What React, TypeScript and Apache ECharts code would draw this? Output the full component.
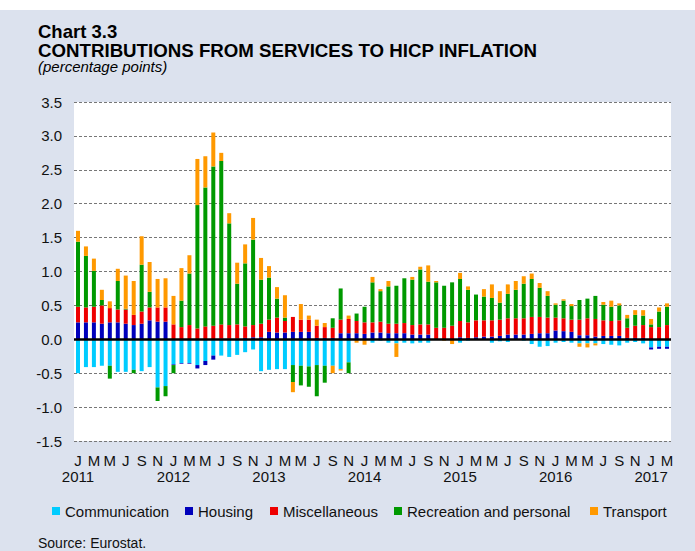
import React, { useEffect, useRef } from "react";
import * as echarts from "echarts";

const years = [2011, 2012, 2013, 2014, 2015, 2016, 2017];
const monthLetters = ["J", "F", "M", "A", "M", "J", "J", "A", "S", "O", "N", "D"];
const monthCount = 75; // Jan 2011 .. Mar 2017

const categories: string[] = [];
for (const y of years) {
  for (let m = 1; m <= 12; m++) {
    if (categories.length < monthCount) categories.push(`${y}-${String(m).padStart(2, "0")}`);
  }
}

const communication = [
  -0.50, -0.41, -0.41, -0.39, -0.39, -0.48, -0.48, -0.45, -0.47, -0.41, -0.71, -0.69,
  -0.37, -0.35, -0.35, -0.38, -0.32, -0.24, -0.24, -0.26, -0.23, -0.19, -0.15, -0.47,
  -0.45, -0.44, -0.44, -0.38, -0.39, -0.40, -0.38, -0.39, -0.39, -0.44, -0.34, 0.00,
  0.00, -0.05, -0.02, -0.05, -0.06, -0.05, -0.06, -0.05, -0.05, 0.00, 0.00, 0.00,
  -0.05, -0.02, 0.00, 0.00, -0.05, -0.03, -0.04, 0.00, -0.02, -0.07, -0.11, -0.10,
  -0.05, -0.04, -0.05, -0.06, -0.06, -0.06, -0.07, -0.08, -0.09, -0.05, -0.04, -0.06,
  -0.12, -0.11, -0.11,
];

const housing = [
  0.25, 0.25, 0.25, 0.23, 0.25, 0.25, 0.23, 0.21, 0.23, 0.28, 0.26, 0.26,
  -0.01, -0.01, -0.01, -0.05, -0.06, -0.06, 0.01, 0.01, 0.01, 0.02, 0.03, 0.03,
  0.11, 0.10, 0.10, 0.11, 0.11, 0.11, 0.02, 0.02, 0.02, 0.09, 0.09, 0.09,
  0.08, 0.10, 0.10, 0.09, 0.09, 0.09, 0.07, 0.07, 0.07, 0.00, 0.00, 0.00,
  0.03, 0.02, 0.03, 0.04, 0.04, 0.05, 0.07, 0.07, 0.07, 0.08, 0.09, 0.09,
  0.13, 0.12, 0.11, 0.06, 0.06, 0.04, 0.05, 0.05, 0.05, 0.02, 0.02, 0.02,
  -0.03, -0.03, -0.03,
];

const miscellaneous = [
  0.23, 0.22, 0.23, 0.27, 0.21, 0.19, 0.21, 0.15, 0.18, 0.19, 0.21, 0.21,
  0.22, 0.18, 0.21, 0.16, 0.19, 0.20, 0.21, 0.20, 0.21, 0.17, 0.18, 0.20,
  0.18, 0.22, 0.17, 0.22, 0.18, 0.18, 0.18, 0.16, 0.15, 0.20, 0.21, 0.18,
  0.17, 0.15, 0.16, 0.14, 0.14, 0.15, 0.14, 0.15, 0.15, 0.17, 0.17, 0.20,
  0.24, 0.23, 0.25, 0.24, 0.24, 0.24, 0.24, 0.24, 0.24, 0.25, 0.24, 0.23,
  0.19, 0.19, 0.18, 0.23, 0.25, 0.26, 0.23, 0.22, 0.23, 0.15, 0.18, 0.19,
  0.18, 0.18, 0.21,
];

const recreation = [
  0.96, 0.76, 0.53, 0.08, -0.19, 0.42, 0.01, -0.05, 0.69, 0.23, -0.20, -0.15,
  -0.12, 0.39, 0.76, 1.82, 2.05, 2.35, 2.41, 1.50, 0.60, 0.93, 1.26, 0.65,
  0.62, 0.28, 0.05, -0.25, -0.29, -0.30, -0.46, -0.25, 0.14, 0.46, -0.16, 0.11,
  0.23, 0.59, 0.45, 0.55, 0.56, 0.66, 0.67, 0.81, 0.63, 0.67, 0.62, 0.64,
  0.62, 0.48, 0.38, 0.35, 0.33, 0.25, 0.36, 0.42, 0.51, 0.56, 0.43, 0.32,
  0.19, 0.26, 0.20, 0.29, 0.29, 0.34, 0.23, 0.21, 0.22, 0.14, 0.16, 0.14,
  0.04, 0.23, 0.27,
];

const transport = [
  0.16, 0.14, 0.18, 0.15, 0.10, 0.18, 0.49, 0.50, 0.42, 0.44, 0.42, 0.43,
  0.42, 0.48, 0.27, 0.68, 0.46, 0.50, 0.12, 0.15, 0.31, 0.28, 0.32, 0.32,
  0.17, 0.17, 0.33, -0.15, 0.23, 0.06, 0.09, 0.06, -0.11, -0.02, 0.05, -0.05,
  -0.08, 0.08, 0.03, 0.08, -0.20, 0.00, 0.04, 0.04, 0.24, 0.02, -0.02, -0.07,
  0.09, 0.05, 0.00, 0.11, 0.20, 0.17, 0.14, 0.13, 0.11, 0.08, 0.07, 0.07,
  0.02, 0.02, 0.03, -0.05, -0.06, -0.03, 0.04, 0.09, 0.03, 0.05, 0.07, 0.08,
  0.08, 0.06, 0.05,
];

const seriesNames = ["Communication", "Housing", "Miscellaneous", "Recreation and personal", "Transport"];
const seriesColors = ["#00CCFF", "#0000BB", "#EE0000", "#009900", "#FF9900"];
const seriesValues = [communication, housing, miscellaneous, recreation, transport];
const legendLefts = [52, 185, 270, 394, 590];

const FONT = "'Liberation Sans', Arial, Helvetica, sans-serif";

export default function App() {
  const ref = useRef<HTMLDivElement>(null);

  useEffect(() => {
    if (!ref.current) return;
    const chart = echarts.init(ref.current, undefined, { renderer: "svg" });

    const series: any[] = seriesNames.map((name, i) => ({
      name,
      type: "bar",
      stack: "total",
      data: seriesValues[i],
      barWidth: 4,
      itemStyle: { color: seriesColors[i] },
      ...(i === seriesNames.length - 1
        ? {
            markLine: {
              silent: true,
              symbol: "none",
              label: { show: false },
              lineStyle: { color: "#000", width: 2.5, type: "solid" },
              data: [{ yAxis: 0 }],
            },
          }
        : {}),
    }));

    chart.setOption({
      animation: false,
      textStyle: { fontFamily: FONT },
      title: [
        {
          text: "Chart 3.3",
          left: 38,
          top: 23,
          padding: 0,
          textStyle: { fontFamily: FONT, fontSize: 18.5, fontWeight: "bold", color: "#000", lineHeight: 17 },
        },
        {
          text: "CONTRIBUTIONS FROM SERVICES TO HICP INFLATION",
          left: 38,
          top: 41.5,
          padding: 0,
          textStyle: { fontFamily: FONT, fontSize: 18.7, fontWeight: "bold", color: "#000", lineHeight: 17 },
        },
        {
          text: "(percentage points)",
          left: 38,
          top: 59,
          padding: 0,
          textStyle: { fontFamily: FONT, fontSize: 15, fontStyle: "italic", fontWeight: "normal", color: "#000", lineHeight: 14 },
        },
      ],
      legend: seriesNames.map((name, i) => ({
        data: [name],
        left: legendLefts[i],
        top: 503,
        padding: 0,
        itemGap: 0,
        itemWidth: 8,
        itemHeight: 8,
        icon: "rect",
        selectedMode: false,
        textStyle: { fontFamily: FONT, fontSize: 15, color: "#111", lineHeight: 16 },
      })),
      grid: {
        left: 74,
        top: 102,
        width: 597,
        height: 339,
        show: true,
        backgroundColor: "#ffffff",
        borderWidth: 0,
      },
      xAxis: {
        type: "category",
        data: categories,
        axisLine: { show: false },
        axisTick: { show: false },
        splitLine: { show: false },
        axisLabel: {
          interval: 0,
          margin: 12,
          fontFamily: FONT,
          fontSize: 15,
          lineHeight: 15.5,
          color: "#111",
          formatter: (value: string, index: number) => {
            if (index % 2 !== 0) return "";
            const [y, m] = value.split("-");
            const letter = monthLetters[Number(m) - 1];
            return m === "01" ? `${letter}\n${y}` : letter;
          },
        },
      },
      yAxis: {
        type: "value",
        min: -1.5,
        max: 3.5,
        interval: 0.5,
        axisLine: { show: false },
        axisTick: { show: false },
        axisLabel: {
          margin: 12,
          fontFamily: FONT,
          fontSize: 15,
          color: "#111",
          formatter: (v: number) => v.toFixed(1),
        },
        splitLine: { show: true, lineStyle: { color: "#777", width: 1, type: [3, 2] } },
      },
      graphic: [
        {
          type: "text",
          left: 38,
          top: 536,
          style: { text: "Source: Eurostat.", font: `14px ${FONT}`, fill: "#111" },
        },
      ],
      series,
    });

    return () => chart.dispose();
  }, []);

  return (
    <div
      ref={ref}
      style={{
        position: "fixed",
        left: 0,
        top: 0,
        width: 695,
        height: 551,
        background: "linear-gradient(#ffffff 0px, #ffffff 10px, #DCE2EE 10px, #DCE2EE 100%)",
      }}
    />
  );
}
